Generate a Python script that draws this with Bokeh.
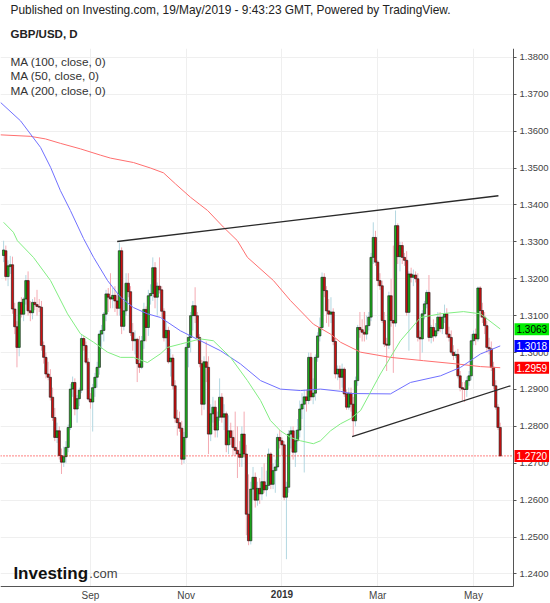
import pandas as pd
from bokeh.plotting import figure
from bokeh.models import Range1d, FixedTicker, NumeralTickFormatter, Label, ColumnDataSource, Title, Grid
from bokeh.embed import file_html
from bokeh.resources import INLINE

# ---------------- data ----------------
first_day = "2018-07-10"
last_day = "2019-05-17"

opens = [
    1.3263, 1.3276, 1.3206, 1.3233, 1.3238, 1.3118, 1.3070, 1.3014, 1.3136, 1.3104,
    1.3145, 1.3195, 1.3113, 1.3108, 1.3136, 1.3130, 1.3125, 1.3123, 1.3019, 1.2987,
    1.2942, 1.2933, 1.2879, 1.2824, 1.2770, 1.2788, 1.2721, 1.2703, 1.2718, 1.2743,
    1.2797, 1.2901, 1.2919, 1.2847, 1.2875, 1.2898, 1.3038, 1.3019, 1.2974, 1.2874,
    1.2866, 1.2905, 1.2933, 1.2960, 1.3050, 1.3060, 1.3104, 1.3159, 1.3150, 1.3145,
    1.3155, 1.3140, 1.3120, 1.3276, 1.3071, 1.3113, 1.3188, 1.3165, 1.3054, 1.3032,
    1.3036, 1.2970, 1.2960, 1.3032, 1.3117, 1.3068, 1.3154, 1.3160, 1.3230, 1.3150,
    1.3180, 1.3170, 1.3112, 1.3040, 1.3060, 1.2975, 1.2985, 1.2910, 1.2822, 1.2810,
    1.2795, 1.2711, 1.2770, 1.3014, 1.3041, 1.3100, 1.3127, 1.3100, 1.3041, 1.2970,
    1.2860, 1.2975, 1.2960, 1.2779, 1.2834, 1.2852, 1.2790, 1.2825, 1.2879, 1.2825,
    1.2834, 1.2750, 1.2788, 1.2770, 1.2743, 1.2735, 1.2725, 1.2716, 1.2779, 1.2725,
    1.2562, 1.2490, 1.2630, 1.2662, 1.2600, 1.2632, 1.2617, 1.2650, 1.2628, 1.2640,
    1.2725, 1.2643, 1.2680, 1.2690, 1.2770, 1.2761, 1.2750, 1.2608, 1.2635, 1.2779,
    1.2788, 1.2730, 1.2761, 1.2790, 1.2847, 1.2860, 1.2880, 1.2870, 1.2987, 1.2880,
    1.2890, 1.2987, 1.3045, 1.3068, 1.3204, 1.3168, 1.3113, 1.3104, 1.3110, 1.3030,
    1.2942, 1.2955, 1.2933, 1.2955, 1.2888, 1.2852, 1.2890, 1.2860, 1.2815, 1.2924,
    1.3068, 1.3062, 1.3055, 1.3050, 1.3073, 1.3096, 1.3258, 1.3312, 1.3245, 1.3195,
    1.3181, 1.3087, 1.3023, 1.3020, 1.3154, 1.3087, 1.3080, 1.3344, 1.3260, 1.3290,
    1.3258, 1.3250, 1.3109, 1.3213, 1.3204, 1.3210, 1.3200, 1.3041, 1.3037, 1.3105,
    1.3132, 1.3163, 1.3041, 1.3068, 1.3045, 1.3059, 1.3096, 1.3065, 1.3096, 1.3105,
    1.3050, 1.3041, 1.3001, 1.2992, 1.2995, 1.2937, 1.2905, 1.2901, 1.2900, 1.2924,
    1.2937, 1.3032, 1.3050, 1.3037, 1.3175, 1.3114, 1.3096, 1.3073, 1.3014, 1.3010,
    1.2960, 1.2910, 1.2852, 1.2797,
]
highs = [
    1.3303, 1.3290, 1.3250, 1.3262, 1.3260, 1.3135, 1.3085, 1.3140, 1.3150, 1.3150,
    1.3210, 1.3220, 1.3140, 1.3145, 1.3150, 1.3170, 1.3145, 1.3140, 1.3030, 1.3000,
    1.2975, 1.2955, 1.2905, 1.2850, 1.2810, 1.2800, 1.2740, 1.2745, 1.2760, 1.2805,
    1.2915, 1.2935, 1.2930, 1.2885, 1.2905, 1.3050, 1.3045, 1.3030, 1.2985, 1.2890,
    1.2915, 1.2945, 1.2975, 1.3060, 1.3075, 1.3110, 1.3170, 1.3175, 1.3215, 1.3175,
    1.3180, 1.3160, 1.3298, 1.3285, 1.3140, 1.3215, 1.3215, 1.3180, 1.3080, 1.3060,
    1.3040, 1.3045, 1.3045, 1.3135, 1.3125, 1.3170, 1.3185, 1.3258, 1.3245, 1.3190,
    1.3258, 1.3180, 1.3120, 1.3085, 1.3070, 1.3010, 1.2995, 1.2925, 1.2845, 1.2840,
    1.2815, 1.2785, 1.3025, 1.3048, 1.3110, 1.3140, 1.3177, 1.3110, 1.3050, 1.2980,
    1.2990, 1.3030, 1.2990, 1.2860, 1.2880, 1.2870, 1.2840, 1.2930, 1.2890, 1.2860,
    1.2840, 1.2830, 1.2810, 1.2790, 1.2840, 1.2800, 1.2760, 1.2800, 1.2840, 1.2750,
    1.2670, 1.2650, 1.2690, 1.2675, 1.2650, 1.2660, 1.2690, 1.2700, 1.2680, 1.2740,
    1.2730, 1.2700, 1.2710, 1.2780, 1.2790, 1.2770, 1.2760, 1.2650, 1.2790, 1.2800,
    1.2800, 1.2790, 1.2820, 1.2870, 1.2890, 1.2900, 1.2900, 1.3000, 1.3000, 1.2930,
    1.2995, 1.3055, 1.3095, 1.3217, 1.3215, 1.3180, 1.3145, 1.3150, 1.3120, 1.3040,
    1.2965, 1.2965, 1.2970, 1.2960, 1.2900, 1.2905, 1.2905, 1.2880, 1.2935, 1.3075,
    1.3110, 1.3090, 1.3110, 1.3100, 1.3110, 1.3270, 1.3353, 1.3330, 1.3250, 1.3215,
    1.3195, 1.3110, 1.3040, 1.3165, 1.3200, 1.3290, 1.3385, 1.3350, 1.3300, 1.3300,
    1.3270, 1.3275, 1.3220, 1.3230, 1.3225, 1.3220, 1.3215, 1.3060, 1.3115, 1.3140,
    1.3170, 1.3210, 1.3075, 1.3090, 1.3080, 1.3110, 1.3110, 1.3100, 1.3130, 1.3120,
    1.3070, 1.3060, 1.3020, 1.3005, 1.3010, 1.2950, 1.2920, 1.2920, 1.2935, 1.2950,
    1.3050, 1.3060, 1.3065, 1.3179, 1.3180, 1.3135, 1.3110, 1.3085, 1.3040, 1.3030,
    1.2975, 1.2925, 1.2860, 1.2810,
]
lows = [
    1.3245, 1.3195, 1.3180, 1.3213, 1.3105, 1.3050, 1.2960, 1.2990, 1.3095, 1.3085,
    1.3130, 1.3100, 1.3085, 1.3090, 1.3115, 1.3100, 1.3110, 1.3005, 1.2970, 1.2930,
    1.2925, 1.2870, 1.2815, 1.2760, 1.2755, 1.2710, 1.2671, 1.2690, 1.2700, 1.2730,
    1.2790, 1.2880, 1.2830, 1.2810, 1.2855, 1.2890, 1.3005, 1.2968, 1.2870, 1.2848,
    1.2786, 1.2880, 1.2905, 1.2940, 1.3010, 1.3030, 1.3085, 1.3110, 1.3120, 1.3120,
    1.3110, 1.3100, 1.3100, 1.3050, 1.3060, 1.3100, 1.3150, 1.3045, 1.3005, 1.2995,
    1.2920, 1.2945, 1.2955, 1.3010, 1.3030, 1.3045, 1.3130, 1.3140, 1.3120, 1.3100,
    1.3160, 1.3095, 1.3030, 1.3010, 1.2970, 1.2935, 1.2900, 1.2810, 1.2775, 1.2785,
    1.2696, 1.2700, 1.2765, 1.2960, 1.3000, 1.3060, 1.3080, 1.3030, 1.2960, 1.2830,
    1.2845, 1.2920, 1.2725, 1.2760, 1.2810, 1.2770, 1.2770, 1.2815, 1.2810, 1.2790,
    1.2730, 1.2725, 1.2750, 1.2720, 1.2720, 1.2660, 1.2690, 1.2690, 1.2715, 1.2505,
    1.2478, 1.2480, 1.2600, 1.2580, 1.2585, 1.2590, 1.2600, 1.2620, 1.2610, 1.2630,
    1.2630, 1.2630, 1.2620, 1.2680, 1.2740, 1.2720, 1.2600, 1.2440, 1.2620, 1.2740,
    1.2710, 1.2690, 1.2730, 1.2770, 1.2820, 1.2675, 1.2840, 1.2860, 1.2870, 1.2860,
    1.2870, 1.2975, 1.3030, 1.3060, 1.3150, 1.3080, 1.3070, 1.3080, 1.3020, 1.2930,
    1.2925, 1.2900, 1.2905, 1.2880, 1.2845, 1.2845, 1.2840, 1.2772, 1.2800, 1.2910,
    1.3040, 1.3030, 1.3030, 1.3035, 1.3060, 1.3085, 1.3240, 1.3235, 1.3180, 1.3170,
    1.3080, 1.3015, 1.2950, 1.3010, 1.3070, 1.2945, 1.3070, 1.3240, 1.3220, 1.3240,
    1.3235, 1.3100, 1.3005, 1.3190, 1.3180, 1.3190, 1.3030, 1.2980, 1.3000, 1.3090,
    1.3120, 1.3030, 1.3025, 1.3030, 1.3040, 1.3050, 1.3055, 1.3050, 1.3080, 1.3040,
    1.3030, 1.2995, 1.2980, 1.2985, 1.2930, 1.2895, 1.2870, 1.2866, 1.2880, 1.2910,
    1.2925, 1.3020, 1.3020, 1.3030, 1.3095, 1.3080, 1.3050, 1.3000, 1.2995, 1.2950,
    1.2900, 1.2845, 1.2790, 1.2718,
]
closes = [
    1.3278, 1.3206, 1.3235, 1.3238, 1.3118, 1.3070, 1.3014, 1.3136, 1.3104, 1.3145,
    1.3195, 1.3113, 1.3108, 1.3136, 1.3130, 1.3125, 1.3123, 1.3019, 1.2987, 1.2942,
    1.2933, 1.2879, 1.2824, 1.2770, 1.2788, 1.2721, 1.2703, 1.2718, 1.2743, 1.2797,
    1.2901, 1.2919, 1.2847, 1.2875, 1.2898, 1.3038, 1.3019, 1.2974, 1.2874, 1.2866,
    1.2905, 1.2933, 1.2960, 1.3050, 1.3060, 1.3104, 1.3159, 1.3150, 1.3145, 1.3155,
    1.3140, 1.3120, 1.3276, 1.3071, 1.3113, 1.3188, 1.3165, 1.3054, 1.3032, 1.3036,
    1.2970, 1.2960, 1.3032, 1.3117, 1.3068, 1.3154, 1.3160, 1.3230, 1.3150, 1.3180,
    1.3170, 1.3112, 1.3040, 1.3060, 1.2975, 1.2985, 1.2910, 1.2822, 1.2810, 1.2795,
    1.2711, 1.2770, 1.3014, 1.3041, 1.3100, 1.3127, 1.3100, 1.3041, 1.2970, 1.2860,
    1.2975, 1.2960, 1.2779, 1.2834, 1.2852, 1.2790, 1.2825, 1.2879, 1.2825, 1.2834,
    1.2750, 1.2788, 1.2770, 1.2743, 1.2735, 1.2725, 1.2716, 1.2779, 1.2725, 1.2562,
    1.2490, 1.2630, 1.2662, 1.2600, 1.2632, 1.2617, 1.2650, 1.2628, 1.2640, 1.2725,
    1.2643, 1.2680, 1.2690, 1.2770, 1.2761, 1.2750, 1.2608, 1.2635, 1.2779, 1.2788,
    1.2730, 1.2761, 1.2790, 1.2847, 1.2860, 1.2880, 1.2870, 1.2987, 1.2880, 1.2890,
    1.2987, 1.3045, 1.3068, 1.3204, 1.3168, 1.3113, 1.3104, 1.3110, 1.3030, 1.2942,
    1.2955, 1.2933, 1.2955, 1.2888, 1.2852, 1.2890, 1.2860, 1.2815, 1.2924, 1.3068,
    1.3062, 1.3055, 1.3050, 1.3073, 1.3096, 1.3258, 1.3312, 1.3245, 1.3195, 1.3181,
    1.3087, 1.3023, 1.3020, 1.3154, 1.3087, 1.3080, 1.3344, 1.3260, 1.3290, 1.3258,
    1.3250, 1.3109, 1.3213, 1.3204, 1.3210, 1.3200, 1.3041, 1.3037, 1.3105, 1.3132,
    1.3163, 1.3041, 1.3068, 1.3045, 1.3059, 1.3096, 1.3065, 1.3096, 1.3105, 1.3050,
    1.3041, 1.3001, 1.2992, 1.2995, 1.2937, 1.2905, 1.2901, 1.2900, 1.2924, 1.2937,
    1.3032, 1.3050, 1.3037, 1.3175, 1.3114, 1.3096, 1.3073, 1.3014, 1.3010, 1.2960,
    1.2910, 1.2852, 1.2797, 1.2720,
]

# moving averages, read at sample bars
ma100_idx = [-1.4, 7.6, 16.6, 21.1, 25.5, 30.0, 35.9, 40.4, 46.7, 52.5, 58.3, 64.6, 70.5,
             79.4, 88.4, 97.4, 106.4, 115.4, 124.3, 133.3, 142.3, 151.3, 155.8, 173.7,
             182.7, 196.2, 205.2, 214.1, 223.0]
ma100_val = [1.3678, 1.3628, 1.3556, 1.3502, 1.3439, 1.3385, 1.3309, 1.3258, 1.3195, 1.3150,
             1.3122, 1.3105, 1.3095, 1.3059, 1.3032, 1.3005, 1.2969, 1.2924, 1.2901, 1.2897,
             1.2901, 1.2895, 1.2889, 1.2888, 1.2919, 1.2937, 1.2960, 1.2996, 1.3018]

ma50_idx = [0.0, 4.4, 6.2, 13.4, 21.1, 28.7, 34.5, 40.4, 46.7, 52.5, 58.3, 64.6, 70.5, 73.6,
            79.4, 88.4, 94.2, 101.9, 109.5, 115.4, 119.8, 124.3, 128.8, 133.3, 139.1, 142.3,
            146.8, 151.3, 155.8, 160.3, 169.2, 178.2, 187.2, 196.2, 206.5, 214.1, 223.0]
ma50_val = [1.3353, 1.3326, 1.3303, 1.3258, 1.3195, 1.3105, 1.3051, 1.3028, 1.3001, 1.2987,
            1.2987, 1.2973, 1.2997, 1.3014, 1.3023, 1.3037, 1.3032, 1.2987, 1.2924, 1.2870,
            1.2816, 1.2788, 1.2770, 1.2761, 1.2753, 1.2761, 1.2788, 1.2807, 1.2821, 1.2843,
            1.2942, 1.3032, 1.3095, 1.3105, 1.3111, 1.3105, 1.3064]

ma200_idx = [-1.4, 12.0, 18.8, 25.5, 34.5, 43.5, 48.0, 58.3, 66.0, 71.8, 77.2, 83.9, 91.6,
             98.7, 105.0, 109.5, 121.2, 128.8, 139.1, 146.8, 151.3, 160.3, 173.7, 188.6,
             203.8, 214.1, 223.0]
ma200_val = [1.3590, 1.3586, 1.3579, 1.3567, 1.3552, 1.3535, 1.3527, 1.3515, 1.3500, 1.3487,
             1.3457, 1.3421, 1.3385, 1.3340, 1.3303, 1.3258, 1.3195, 1.3141, 1.3077, 1.3050,
             1.3028, 1.3001, 1.2987, 1.2978, 1.2969, 1.2962, 1.2959]

upper_trend_idx = [51.0, 222.2]
upper_trend_val = [1.3301, 1.3425]
lower_trend_idx = [156.5, 227.6]
lower_trend_val = [1.2772, 1.2910]

last_ma50, last_ma100, last_ma200 = 1.3063, 1.3018, 1.2959

tick_dates = ["2018-09-03", "2018-11-01", "2019-01-01", "2019-03-01", "2019-05-01"]
tick_labels = ["Sep", "Nov", "2019", "Mar", "May"]
y_ticks = [1.24, 1.25, 1.26, 1.27, 1.28, 1.29, 1.30, 1.31, 1.32, 1.33, 1.34, 1.35, 1.36, 1.37, 1.38]

# ---------------- build ----------------
dates = pd.bdate_range(first_day, last_day)
xs = list(range(len(dates)))
tick_idx = [int(dates.get_loc(pd.Timestamp(d))) for d in tick_dates]

UP_BODY, DOWN_BODY = "#1db11d", "#cf1010"
UP_WICK, DOWN_WICK = "#b3d7e1", "#f4aab2"
FONT = "Liberation Sans"

up = [c >= o for o, c in zip(opens, closes)]
src = ColumnDataSource(dict(
    x=xs, high=highs, low=lows,
    top=[max(o, c) for o, c in zip(opens, closes)],
    bottom=[min(o, c) for o, c in zip(opens, closes)],
    body=[UP_BODY if u else DOWN_BODY for u in up],
    wick=[UP_WICK if u else DOWN_WICK for u in up],
))

# view: price area X0..X_AX, price axis at X_AX with its labels in a gutter up to X1;
# time axis at Y_AX with its labels down to Y_BOT
X0, X_AX, X1 = -1.39, 228.96, 245.58
Y_BOT, Y_AX, Y1 = 1.2320, 1.2366, 1.3824

p = figure(width=550, height=603, x_range=Range1d(X0, X1), y_range=Range1d(Y_BOT, Y1),
           title=None, y_axis_location="right", toolbar_location=None, output_backend="svg",
           min_border_left=0, min_border_right=0, min_border_top=0, min_border_bottom=0,
           background_fill_color="white", border_fill_color="white", outline_line_color=None)

p.add_layout(Title(text="GBP/USD, D", text_font=FONT, text_font_size="11.5px", text_font_style="bold",
                   text_color="#222222", align="left", offset=10, standoff=18), "above")
p.add_layout(Title(text="Published on Investing.com, 19/May/2019 - 9:43:23 GMT, Powered by TradingView.",
                   text_font=FONT, text_font_size="11.9px", text_font_style="normal",
                   text_color="#222222", align="left", offset=10, standoff=0), "above")

xax = p.xaxis[0]
xax.fixed_location = Y_AX
xax.bounds = (X0, X_AX)
xax.ticker = FixedTicker(ticks=tick_idx)
xax.major_label_overrides = {i: ("" if l == "2019" else l) for i, l in zip(tick_idx, tick_labels)}
xax.major_tick_out = 0
xax.major_tick_in = 0
xax.minor_tick_line_color = None
xax.axis_line_color = "#555555"
xax.major_label_text_font = FONT
xax.major_label_text_font_size = "10px"
xax.major_label_text_color = "#444444"
xax.major_label_standoff = 3

yax = p.yaxis[0]
yax.fixed_location = X_AX
yax.bounds = (Y_AX, Y1)
yax.ticker = FixedTicker(ticks=y_ticks)
yax.formatter = NumeralTickFormatter(format="0.0000")
yax.major_tick_out = 3
yax.major_tick_in = 0
yax.minor_tick_line_color = None
yax.axis_line_color = "#555555"
yax.major_tick_line_color = "#555555"
yax.major_label_text_font = FONT
yax.major_label_text_font_size = "9.5px"
yax.major_label_text_color = "#444444"
yax.major_label_standoff = 3

p.grid.grid_line_color = "#efefef"
p.grid.grid_line_width = 1
has_cross = "cross_bounds" in Grid.properties()
if has_cross:
    p.xgrid.cross_bounds = (Y_AX, Y1)
    p.ygrid.cross_bounds = (X0, X_AX)

p.segment(x0="x", y0="low", x1="x", y1="high", line_color="wick", line_width=1, source=src)
p.vbar(x="x", width=1.0, top="top", bottom="bottom", fill_color="body",
       line_color="#151515", line_width=0.6, source=src)

p.line(ma200_idx, ma200_val, line_color="#ff6f6f", line_width=1)
p.line(ma100_idx, ma100_val, line_color="#7070ff", line_width=1)
p.line(ma50_idx, ma50_val, line_color="#82ee82", line_width=1)

p.line(upper_trend_idx, upper_trend_val, line_color="#2a2a2a", line_width=1.3)
p.line(lower_trend_idx, lower_trend_val, line_color="#2a2a2a", line_width=1.3)

# last-price marker line, running up to the price axis
p.line([X0, X_AX], [closes[-1], closes[-1]], line_color="#ff0000", line_dash="1 2", line_width=1)

if not has_cross:
    p.quad(left=[X_AX, X0], right=[X1, X1], bottom=[Y_BOT, Y_BOT], top=[Y1, Y_AX],
           fill_color="white", line_color=None)

# texts
def lab(**kw):
    base = dict(text_font=FONT, text_baseline="middle", text_align="left")
    base.update(kw)
    p.add_layout(Label(**base))

for yy, t in [(1.3788, "MA (100, close, 0)"), (1.3750, "MA (50, close, 0)"), (1.3710, "MA (200, close, 0)")]:
    lab(x=3.1, y=yy, text=t, text_font_size="11.8px", text_color="#333333")

lab(x=4.4, y=1.2401, text="Investing", text_font_size="17px",
    text_font_style="bold", text_color="#111111", text_baseline="alphabetic")
lab(x=38.5, y=1.2401, text=".com", text_font_size="13px",
    text_color="#444444", text_baseline="alphabetic")

i2019 = tick_idx[tick_labels.index("2019")]
lab(x=i2019, y=Y_AX - 0.0009, text="2019", text_font_size="10px",
    text_font_style="bold", text_color="#333333", text_align="center", text_baseline="top")

for v, bg, fg in [(last_ma50, "#00ee00", "#000000"), (last_ma100, "#0000ff", "#ffffff"),
                  (last_ma200, "#ff0000", "#ffffff"), (closes[-1], "#ff0000", "#ffffff")]:
    lab(x=X_AX, x_offset=1, y=v, text=f"{v:.4f}",
        text_font_size="10px", text_color=fg, background_fill_color=bg, padding=2)

open("out.html", "w").write(file_html(p, INLINE))
